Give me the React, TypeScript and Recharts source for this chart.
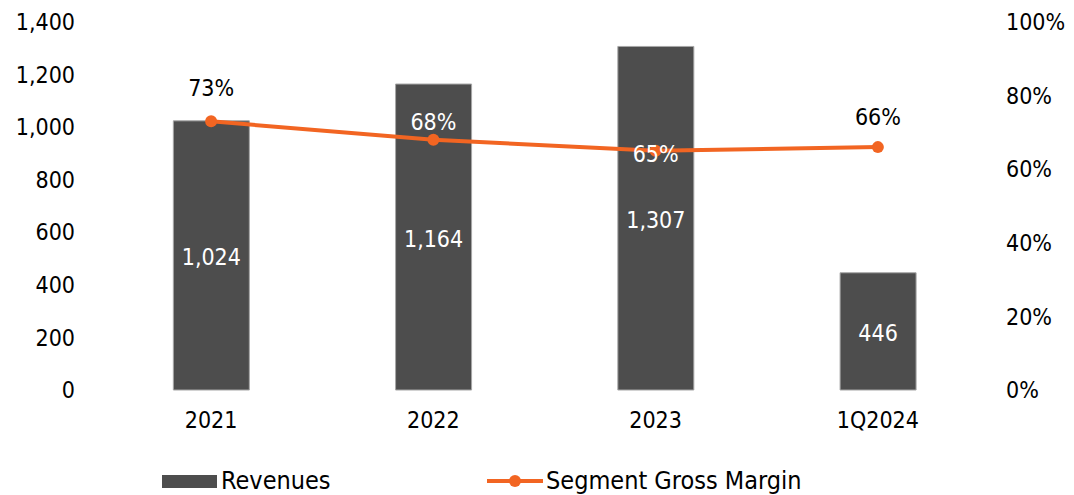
import { ComposedChart, Bar, Line, XAxis, YAxis, LabelList, Legend } from 'recharts';

const categories = ['2021', '2022', '2023', '1Q2024'];
const revenues = [1024, 1164, 1307, 446];
const grossMargin = [73, 68, 65, 66];

const leftTicks = [0, 200, 400, 600, 800, 1000, 1200, 1400];
const rightTicks = [0, 20, 40, 60, 80, 100];

// how far each margin label sits above its point (px), as placed in the original
const MARGIN_LABEL_LIFT = [33, 18, -3, 30];

const data = categories.map((name, i) => ({
    name,
    revenue: revenues[i],
    margin: grossMargin[i],
}));

const BAR_COLOR = '#4d4d4d';
const LINE_COLOR = '#f26522';
const FONT = '"DejaVu Sans Condensed", "DejaVu Sans", sans-serif';
const TICK_STYLE = { fill: '#000', fontSize: 23, fontFamily: FONT };

// margin label turns white when it sits over the bar
const MarginLabel = (props: any) => {
    const { x, y, index } = props;
    const insideBar = revenues[index] / 1400 > (grossMargin[index] + 6) / 100;
    return (
        <text
            x={x}
            y={y - MARGIN_LABEL_LIFT[index]}
            textAnchor="middle"
            dominantBaseline="central"
            fill={insideBar ? '#ffffff' : '#000000'}
            fontSize={23}
            fontFamily={FONT}
        >
            {`${grossMargin[index]}%`}
        </text>
    );
};

const RevenueLabel = (props: any) => {
    const { x, y, width, height, index } = props;
    return (
        <text
            x={x + width / 2}
            y={y + height / 2 + 2}
            textAnchor="middle"
            dominantBaseline="central"
            fill="#ffffff"
            fontSize={23}
            fontFamily={FONT}
        >
            {revenues[index].toLocaleString('en-US')}
        </text>
    );
};

const LegendContent = () => (
    <div style={{ position: 'relative', height: 30, fontFamily: FONT, fontSize: 25, color: '#000', lineHeight: '28px' }}>
        <div style={{ position: 'absolute', left: 162, top: 2, display: 'flex', alignItems: 'center' }}>
            <span style={{ display: 'inline-block', width: 55, height: 13, background: BAR_COLOR }} />
            <span style={{ marginLeft: 4 }}>Revenues</span>
        </div>
        <div style={{ position: 'absolute', left: 487, top: 2, display: 'flex', alignItems: 'center' }}>
            <svg width={56} height={14}>
                <line x1={0} y1={7} x2={56} y2={7} stroke={LINE_COLOR} strokeWidth={4} />
                <circle cx={28} cy={7} r={6} fill={LINE_COLOR} />
            </svg>
            <span style={{ marginLeft: 3 }}>Segment Gross Margin</span>
        </div>
    </div>
);

export default function App() {
    return (
        <div style={{ width: 1074, height: 495, background: '#fff' }}>
            <style>{'body { margin: 0; }'}</style>
            <ComposedChart
                width={1074}
                height={495}
                data={data}
                margin={{ top: 22, right: 0, bottom: 0, left: 0 }}
                barCategoryGap="33%"
            >
                <XAxis
                    dataKey="name"
                    axisLine={false}
                    tickLine={false}
                    tickSize={0}
                    tickMargin={22}
                    height={75}
                    tick={TICK_STYLE}
                />
                <YAxis
                    yAxisId="left"
                    domain={[0, 1400]}
                    ticks={leftTicks}
                    width={100}
                    axisLine={false}
                    tickLine={false}
                    tickSize={0}
                    tickMargin={25}
                    tickFormatter={(v: number) => v.toLocaleString('en-US')}
                    tick={TICK_STYLE}
                />
                <YAxis
                    yAxisId="right"
                    orientation="right"
                    domain={[0, 100]}
                    ticks={rightTicks}
                    width={85}
                    axisLine={false}
                    tickLine={false}
                    tickSize={0}
                    tickMargin={17}
                    tickFormatter={(v: number) => `${v}%`}
                    tick={{ ...TICK_STYLE, textAnchor: 'start' }}
                />
                <Legend verticalAlign="bottom" content={<LegendContent />} wrapperStyle={{ left: 0, width: 1074 }} />
                <Bar yAxisId="left" dataKey="revenue" fill={BAR_COLOR} stroke="#a6a6a6" strokeWidth={1} isAnimationActive={false}>
                    <LabelList dataKey="revenue" content={<RevenueLabel />} />
                </Bar>
                <Line
                    yAxisId="right"
                    dataKey="margin"
                    stroke={LINE_COLOR}
                    strokeWidth={4}
                    dot={{ r: 6, fill: LINE_COLOR, stroke: LINE_COLOR, strokeWidth: 0 }}
                    isAnimationActive={false}
                >
                    <LabelList dataKey="margin" content={<MarginLabel />} />
                </Line>
            </ComposedChart>
        </div>
    );
}
